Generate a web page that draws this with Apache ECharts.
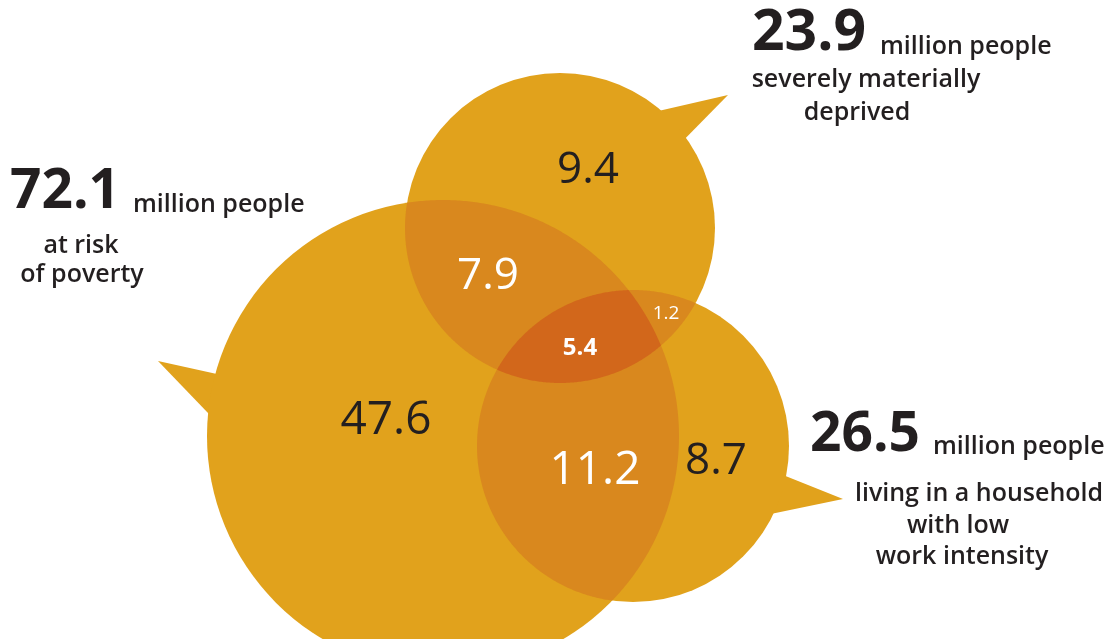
<!DOCTYPE html>
<html>
<head>
<meta charset="utf-8">
<script src="https://cdn.jsdelivr.net/npm/echarts@6/dist/echarts.min.js"></script>
<style>
  html, body { margin: 0; padding: 0; background: #ffffff; }
  #chart { width: 1111px; height: 639px; }
</style>
</head>
<body>
<div id="chart"></div>
<script>
// ---- Data (million people) ----
const setTotals = [72.1, 23.9, 26.5];
const setUnits = ['million people', 'million people', 'million people'];
const setDescriptions = [
  ['at risk', 'of poverty'],
  ['severely materially', 'deprived'],
  ['living in a household', 'with low', 'work intensity']
];
// Which groups each region belongs to (0 = poverty, 1 = deprivation, 2 = low work intensity)
const regionSets = [[0], [1], [2], [0, 1], [1, 2], [0, 2], [0, 1, 2]];
const regionValues = [47.6, 9.4, 8.7, 7.9, 1.2, 11.2, 5.4];

// ---- Layout (drawing units = pixels on a hidden 1111 x 639 plane) ----
const FONT = "'Open Sans', 'Noto Sans', sans-serif";
const palette = {
  base: '#E1A21C',
  pair: '#D9881E',
  triple: '#D2671B',
  dark: '#231F20',
  light: '#FFFFFF'
};
const circleLayout = [
  { cx: 443, cy: 436, r: 236, tail: [[158, 361], [244, 380], [233, 439]] },
  { cx: 560, cy: 228, r: 155, tail: [[728, 95], [641, 115], [670, 154]] },
  { cx: 633, cy: 446, r: 156, tail: [[843, 499], [753, 463], [737, 521]] }
];
const regionLabelLayout = [
  { x: 386, y: 421, size: 46, weight: 400, color: palette.dark },
  { x: 588, y: 170, size: 44, weight: 400, color: palette.dark },
  { x: 716, y: 461, size: 44, weight: 400, color: palette.dark },
  { x: 488, y: 276, size: 44, weight: 400, color: palette.light },
  { x: 666, y: 314, size: 19, weight: 400, color: palette.light },
  { x: 595, y: 471, size: 46, weight: 400, color: palette.light },
  { x: 580, y: 348, size: 24, weight: 700, color: palette.light }
];
const captionLayout = [
  { num: [10, 192], size: 55, unit: [133, 205], lines: [[81, 246], [82, 275]] },
  { num: [752, 34], size: 57, unit: [880, 47], lines: [[866, 80], [857, 113]] },
  { num: [810, 435], size: 55, unit: [933, 447], lines: [[979, 494], [958, 526], [962, 557]] }
];

// ---- Geometry helpers ----
function circlePoly(cx, cy, r, n) {
  const pts = [];
  for (let k = 0; k < n; k++) {
    const a = (2 * Math.PI * k) / n;
    pts.push([cx + r * Math.cos(a), cy + r * Math.sin(a)]);
  }
  return pts;
}
// Sutherland–Hodgman clipping against a convex polygon
function clipConvex(subject, clipper) {
  let out = subject;
  for (let i = 0; i < clipper.length && out.length; i++) {
    const a = clipper[i], b = clipper[(i + 1) % clipper.length];
    const inside = p => (b[0] - a[0]) * (p[1] - a[1]) - (b[1] - a[1]) * (p[0] - a[0]) >= 0;
    const inter = (p, q) => {
      const dx1 = q[0] - p[0], dy1 = q[1] - p[1];
      const dx2 = b[0] - a[0], dy2 = b[1] - a[1];
      const den = dx1 * dy2 - dy1 * dx2;
      const t = ((a[0] - p[0]) * dy2 - (a[1] - p[1]) * dx2) / den;
      return [p[0] + t * dx1, p[1] + t * dy1];
    };
    const input = out;
    out = [];
    for (let j = 0; j < input.length; j++) {
      const cur = input[j], prev = input[(j + input.length - 1) % input.length];
      const ci = inside(cur), pi = inside(prev);
      if (ci) {
        if (!pi) out.push(inter(prev, cur));
        out.push(cur);
      } else if (pi) {
        out.push(inter(prev, cur));
      }
    }
  }
  return out;
}
const circlePolys = circleLayout.map(c => circlePoly(c.cx, c.cy, c.r, 720));
function regionShape(sets) {
  let poly = circlePolys[sets[0]];
  for (let k = 1; k < sets.length; k++) poly = clipConvex(poly, circlePolys[sets[k]]);
  return poly;
}

const chart = echarts.init(document.getElementById('chart'), null, { renderer: 'canvas' });

chart.setOption({
  animation: false,
  backgroundColor: '#ffffff',
  grid: { left: 0, right: 0, top: 0, bottom: 0 },
  xAxis: { type: 'value', min: 0, max: 1111, show: false },
  yAxis: { type: 'value', min: 0, max: 639, inverse: true, show: false },
  series: [
    {
      // One speech-bubble circle per group
      type: 'custom',
      name: 'groups',
      silent: true,
      data: setTotals,
      renderItem: function (params, api) {
        const L = circleLayout[params.dataIndex];
        const c = api.coord([L.cx, L.cy]);
        const r = api.size([L.r, 0])[0];
        return {
          type: 'group',
          children: [
            { type: 'polygon', shape: { points: L.tail.map(p => api.coord(p)) }, style: { fill: palette.base } },
            { type: 'circle', shape: { cx: c[0], cy: c[1], r: r }, style: { fill: palette.base } }
          ]
        };
      }
    },
    {
      // Overlap areas and the value of every region
      type: 'custom',
      name: 'regions',
      silent: true,
      data: regionValues,
      renderItem: function (params, api) {
        const i = params.dataIndex;
        const sets = regionSets[i];
        const lab = regionLabelLayout[i];
        const children = [];
        if (sets.length > 1) {
          children.push({
            type: 'polygon',
            shape: { points: regionShape(sets).map(p => api.coord(p)) },
            style: { fill: sets.length === 3 ? palette.triple : palette.pair }
          });
        }
        const pos = api.coord([lab.x, lab.y]);
        children.push({
          type: 'text',
          x: pos[0], y: pos[1],
          style: {
            text: String(regionValues[i]),
            fill: lab.color,
            fontFamily: FONT,
            fontSize: lab.size,
            fontWeight: lab.weight,
            align: 'center',
            verticalAlign: 'middle'
          }
        });
        return { type: 'group', children: children };
      }
    },
    {
      // Group totals with their captions
      type: 'custom',
      name: 'captions',
      silent: true,
      data: setTotals,
      renderItem: function (params, api) {
        const i = params.dataIndex;
        const L = captionLayout[i];
        const children = [];
        const n = api.coord(L.num);
        children.push({
          type: 'text', x: n[0], y: n[1],
          style: { text: setTotals[i].toFixed(1), fill: palette.dark, fontFamily: FONT, fontSize: L.size, fontWeight: 700, align: 'left', verticalAlign: 'middle' }
        });
        const u = api.coord(L.unit);
        children.push({
          type: 'text', x: u[0], y: u[1],
          style: { text: setUnits[i], fill: palette.dark, fontFamily: FONT, fontSize: 25, fontWeight: 600, align: 'left', verticalAlign: 'middle' }
        });
        setDescriptions[i].forEach((line, k) => {
          const p = api.coord(L.lines[k]);
          children.push({
            type: 'text', x: p[0], y: p[1],
            style: { text: line, fill: palette.dark, fontFamily: FONT, fontSize: 25, fontWeight: 600, align: 'center', verticalAlign: 'middle' }
          });
        });
        return { type: 'group', children: children };
      }
    }
  ]
});
</script>
</body>
</html>
